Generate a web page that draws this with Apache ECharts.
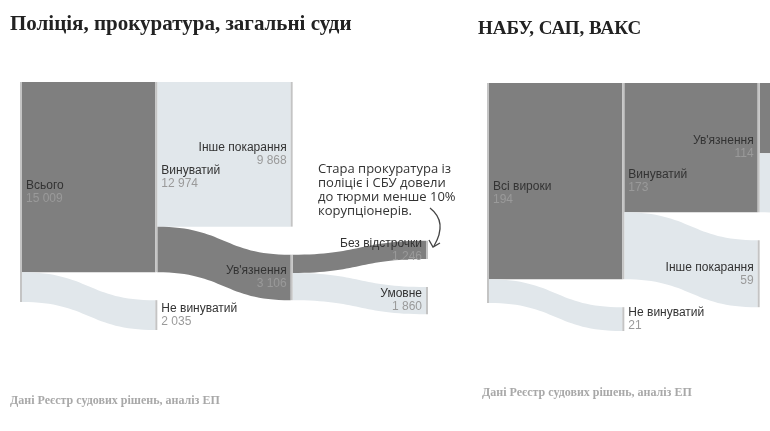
<!DOCTYPE html>
<html>
<head>
<meta charset="utf-8">
<script src="https://cdn.jsdelivr.net/npm/echarts@6/dist/echarts.min.js"></script>
<style>
  html, body { margin: 0; padding: 0; background: #fff; }
  #chart { width: 770px; height: 431px; }
</style>
</head>
<body>
<div id="chart"></div>
<script>
// Data: left panel (police, prosecution, general courts)
var leftSources = ['Всього', 'Всього', 'Винуватий', 'Винуватий', "Ув'язнення", "Ув'язнення"];
var leftTargets = ['Винуватий', 'Не винуватий', 'Інше покарання', "Ув'язнення", 'Без відстрочки', 'Умовне'];
var leftValues = [12974, 2035, 9868, 3106, 1246, 1860];

// Data: right panel (NABU, SAP, HACC) - last column is cropped off in the original
var rightSources = ['Всі вироки', 'Всі вироки', 'Винуватий', 'Винуватий', "Ув'язнення", "Ув'язнення"];
var rightTargets = ['Винуватий', 'Не винуватий', "Ув'язнення", 'Інше покарання', 'Без відстрочки', 'Умовне'];
var rightValues = [173, 21, 114, 59, 62, 52];

var titles = ['Поліція, прокуратура, загальні суди', 'НАБУ, САП, ВАКС'];
var sourceNote = 'Дані Реєстр судових рішень, аналіз ЕП';
var annotation = 'Стара прокуратура із\nполіціє і СБУ довели\nдо тюрми менше 10%\nкорупціонерів.';

// styling
var DARK = '#7f7f7f';
var LIGHT = '#e1e7eb';
var darkTargets = ['Винуватий', "Ув'язнення", 'Без відстрочки'];

function fmt(v) {
    return String(v).replace(/\B(?=(\d{3})+(?!\d))/g, ' ');
}

function depthOf(name, sources, targets) {
    var d = 0;
    for (var i = 0; i < targets.length; i++) {
        if (targets[i] === name) d = Math.max(d, depthOf(sources[i], sources, targets) + 1);
    }
    return d;
}

function nodeNames(sources, targets) {
    var ordered = [];
    for (var i = 0; i < sources.length; i++) {
        if (ordered.indexOf(sources[i]) < 0) ordered.push(sources[i]);
        if (ordered.indexOf(targets[i]) < 0) ordered.push(targets[i]);
    }
    return ordered;
}

function buildNodes(sources, targets, localY) {
    return nodeNames(sources, targets).map(function (n) {
        var item = {
            name: n,
            label: { position: depthOf(n, sources, targets) >= 2 ? 'left' : 'right' }
        };
        if (localY && localY[n] != null) item.localY = localY[n];
        return item;
    });
}

function buildLinks(sources, targets, values) {
    return values.map(function (v, i) {
        return {
            source: sources[i],
            target: targets[i],
            value: v,
            lineStyle: { color: darkTargets.indexOf(targets[i]) >= 0 ? DARK : LIGHT }
        };
    });
}

function sankey(left, top, sources, targets, values) {
    return {
        type: 'sankey',
        left: left,
        top: top,
        width: 408,
        height: 248,
        nodeWidth: 2,
        nodeGap: 28,
        nodeAlign: 'left',
        layoutIterations: 0,
        draggable: false,
        emphasis: { disabled: true },
        itemStyle: { color: '#c4c4c4', borderWidth: 0 },
        lineStyle: { opacity: 1, curveness: 0.5 },
        label: {
            distance: 4,
            formatter: function (p) {
                return '{n|' + p.name + '}\n{v|' + fmt(p.value) + '}';
            },
            rich: {
                n: { color: '#333', fontSize: 12, lineHeight: 13, fontFamily: 'Liberation Sans' },
                v: { color: '#9a9a9a', fontSize: 12, lineHeight: 13, fontFamily: 'Liberation Sans' }
            }
        },
        data: buildNodes(sources, targets),
        links: buildLinks(sources, targets, values)
    };
}

var titleStyle = { fontFamily: 'Liberation Serif', fontWeight: 'bold', color: '#222' };
var noteStyle = { fontFamily: 'Liberation Serif', fontWeight: 'bold', fontSize: 12, color: '#a8a8a8' };

var option = {
    animation: false,
    title: [
        { text: titles[0], left: 10, top: 14, padding: 0, textStyle: Object.assign({ fontSize: 21 }, titleStyle) },
        { text: titles[1], left: 478, top: 20, padding: 0, textStyle: Object.assign({ fontSize: 19 }, titleStyle) },
        { text: sourceNote, left: 10, top: 395, padding: 0, textStyle: noteStyle },
        { text: sourceNote, left: 482, top: 387, padding: 0, textStyle: noteStyle }
    ],
    series: [
        sankey(20, 82, leftSources, leftTargets, leftValues),
        sankey(487, 83, rightSources, rightTargets, rightValues)
    ],
    graphic: [
        {
            type: 'text',
            left: 318,
            top: 162,
            z: 10,
            style: {
                text: annotation,
                font: '13px "Open Sans"',
                lineHeight: 14,
                fill: '#333'
            }
        },
        {
            type: 'bezierCurve',
            z: 10,
            shape: { x1: 430, y1: 208, x2: 434, y2: 246, cpx1: 448, cpy1: 222 },
            style: { stroke: '#444', lineWidth: 1.3, fill: null }
        },
        {
            type: 'polyline',
            z: 10,
            shape: { points: [[429, 240], [433, 247], [440, 243]] },
            style: { stroke: '#444', lineWidth: 1.3, fill: null }
        }
    ]
};

var chart = echarts.init(document.getElementById('chart'));
chart.setOption(option);

// the last column is centred on its parent node (as in the original layout)
function centreLastColumn(seriesIndex, sources, targets) {
    var model = chart.getModel().getSeriesByIndex(seriesIndex);
    var data = model.getData();
    var graph = model.getGraph();
    var height = model.layoutInfo ? model.layoutInfo.height : 248;
    var gap = model.get('nodeGap');
    var maxDepth = 0;
    nodeNames(sources, targets).forEach(function (n) {
        maxDepth = Math.max(maxDepth, depthOf(n, sources, targets));
    });
    var localY = {};
    graph.eachNode(function (p) {
        var kids = p.outEdges.map(function (e) { return e.node2; }).filter(function (k) {
            return depthOf(data.getName(k.dataIndex), sources, targets) === maxDepth;
        });
        if (!kids.length) return;
        var pl = p.getLayout();
        var block = gap * (kids.length - 1);
        kids.forEach(function (k) { block += k.getLayout().dy; });
        var y = pl.y + pl.dy / 2 - block / 2;
        y = Math.max(0, Math.min(height - block, y));
        kids.forEach(function (k) {
            localY[data.getName(k.dataIndex)] = y / height;
            y += k.getLayout().dy + gap;
        });
    });
    return localY;
}

var leftY = centreLastColumn(0, leftSources, leftTargets);
var rightY = centreLastColumn(1, rightSources, rightTargets);
chart.setOption({
    series: [
        { data: buildNodes(leftSources, leftTargets, leftY), links: buildLinks(leftSources, leftTargets, leftValues) },
        { data: buildNodes(rightSources, rightTargets, rightY), links: buildLinks(rightSources, rightTargets, rightValues) }
    ]
});

window.addEventListener('resize', function () {
    chart.resize();
});
</script>
</body>
</html>
